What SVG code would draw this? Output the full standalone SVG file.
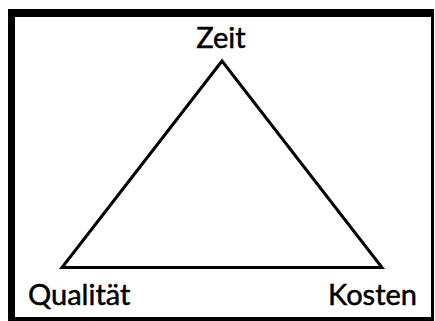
<svg xmlns="http://www.w3.org/2000/svg" width="435" height="321" viewBox="0 0 435 321">
<style>
.lbl{font-family:Lato,"Open Sans","Liberation Sans",sans-serif;font-size:29px;fill:#000;stroke:#000;stroke-width:0.5}
.edge{fill:none;stroke:#000;stroke-width:3;stroke-linejoin:miter}
</style>
<rect x="0" y="0" width="435" height="321" fill="#fff"/>
<rect x="8" y="9" width="426" height="312" fill="#000"/>
<rect x="15" y="17" width="416" height="300" fill="#fff"/>
<g id="connectors">
<polygon class="edge" points="222,61 62,267.5 382,267.5"/>
</g>
<g id="zeit"><text class="lbl" x="221" y="48" text-anchor="middle">Zeit</text></g>
<g id="qualitaet"><text class="lbl" x="28" y="305">Qualität</text></g>
<g id="kosten"><text class="lbl" x="417" y="305" text-anchor="end">Kosten</text></g>
</svg>
